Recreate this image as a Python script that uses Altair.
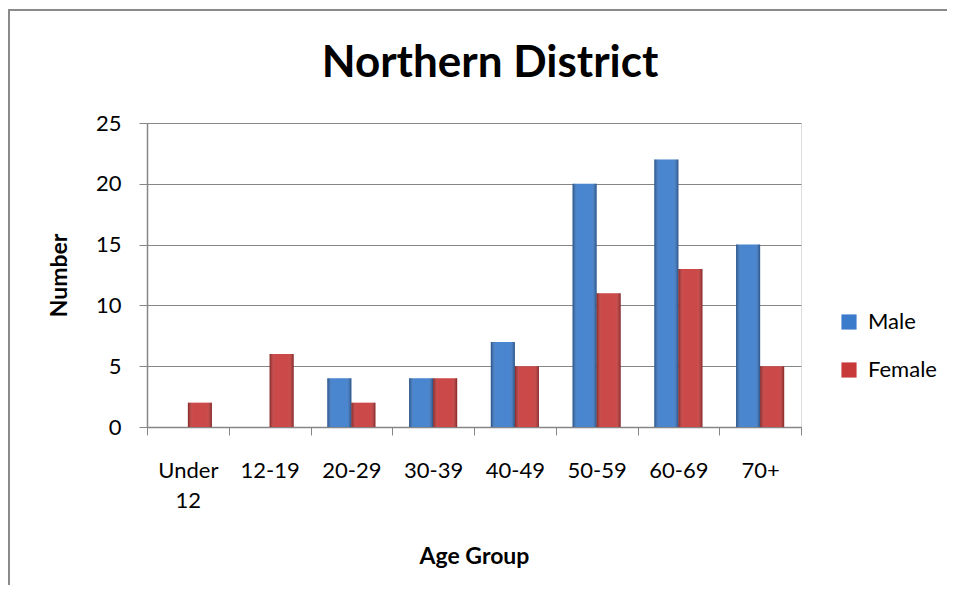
import altair as alt
import pandas as pd

age_groups = ["Under 12", "12-19", "20-29", "30-39", "40-49", "50-59", "60-69", "70+"]
male = [0, 0, 4, 4, 7, 20, 22, 15]
female = [2, 6, 2, 4, 5, 11, 13, 5]
series = ["Male", "Female"]
series_colors = ["#3B7BCB", "#C83A3A"]
y_ticks = [0, 5, 10, 15, 20, 25]

rows = []
for i, g in enumerate(age_groups):
    rows.append({"age": g, "gender": "Male", "n": male[i]})
    rows.append({"age": g, "gender": "Female", "n": female[i]})
df = pd.DataFrame(rows)

FONT = "Lato"
GRID = "#868686"

x_enc = alt.X(
    "age:N",
    sort=age_groups,
    scale=alt.Scale(paddingInner=0, paddingOuter=0),
    axis=alt.Axis(
        title="Age Group",
        titleFont=FONT, titleFontSize=23, titleFontWeight="bold", titleColor="#000",
        titleY=136, titleBaseline="alphabetic",
        labelFont=FONT, labelFontSize=22, labelColor="#000", labelAngle=0,
        labelPadding=25, labelLineHeight=30,
        labelExpr="datum.label == 'Under 12' ? ['Under', '12'] : datum.label",
        tickBand="extent", tickSize=8, tickColor=GRID, domainColor=GRID,
        domainWidth=1.5, grid=False,
    ),
)
xoff_enc = alt.XOffset("gender:N", sort=series, scale=alt.Scale(paddingInner=0, paddingOuter=0.7))
y_enc = alt.Y(
    "n:Q",
    scale=alt.Scale(domain=[0, 25], nice=False),
    axis=alt.Axis(
        title="Number", values=y_ticks,
        titleFont=FONT, titleFontSize=23, titleFontWeight="bold", titleColor="#000",
        titleX=-76,
        labelFont=FONT, labelFontSize=22, labelColor="#000", labelPadding=18,
        tickSize=8, tickColor=GRID, domainColor=GRID, domainWidth=1.5,
        grid=True, gridColor=GRID, gridWidth=1.2,
    ),
)

bars = alt.Chart(df).mark_bar().encode(
    x=x_enc,
    xOffset=xoff_enc,
    y=y_enc,
    color=alt.Color(
        "gender:N", sort=series,
        scale=alt.Scale(domain=series, range=series_colors),
        legend=alt.Legend(
            title=None, orient="none", legendX=691, legendY=188,
            labelFont=FONT, labelFontSize=22, labelColor="#000",
            symbolType="square", symbolSize=230, symbolStrokeWidth=0,
            rowPadding=26, labelOffset=8,
        ),
    ),
)

shade = alt.Chart(df).mark_bar(
    fill=alt.LinearGradient(
        gradient="linear", x1=0, x2=1, y1=0, y2=0,
        stops=[
            alt.GradientStop(color="rgba(0,0,0,0.35)", offset=0),
            alt.GradientStop(color="rgba(255,255,255,0.08)", offset=0.22),
            alt.GradientStop(color="rgba(255,255,255,0.08)", offset=0.78),
            alt.GradientStop(color="rgba(0,0,0,0.35)", offset=1),
        ],
    )
).encode(x=x_enc, xOffset=xoff_enc, y=y_enc)

frame = alt.Chart(pd.DataFrame({"k": [0]})).mark_rect(
    fill=None, stroke="#8a8a8a", strokeWidth=2
).encode(
    x=alt.value(-138), x2=alt.value(830), y=alt.value(-113), y2=alt.value(480)
)

chart = alt.layer(frame, bars, shade).properties(
    width=654,
    height=304,
    autosize=alt.AutoSizeParams(type="none"),
    padding={"left": 139, "top": 115, "right": 146, "bottom": 158},
    title=alt.TitleParams(
        "Northern District", font=FONT, fontSize=44, fontWeight="bold",
        color="#000", anchor="middle", dx=16, offset=-77,
    ),
).configure_view(stroke=None).configure(background="white")

chart.save("out.html", embed_options={"renderer": "svg", "actions": False})
